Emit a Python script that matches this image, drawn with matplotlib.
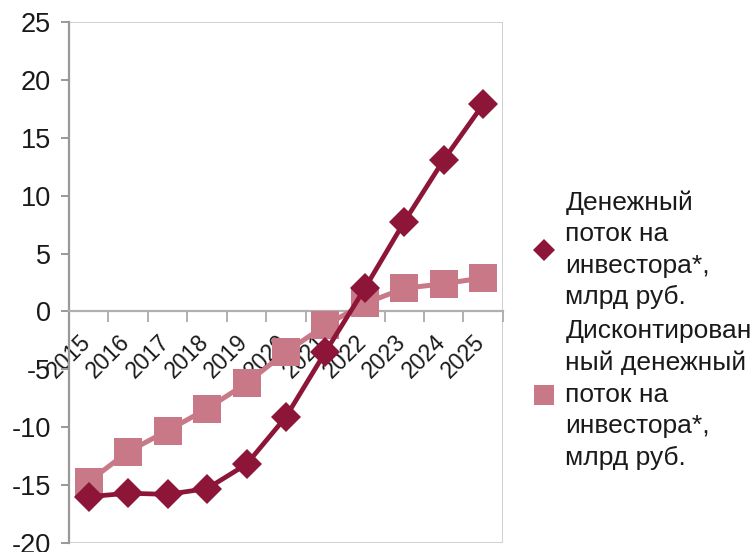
import matplotlib
matplotlib.use("Agg")
import matplotlib.pyplot as plt
from matplotlib.patches import Rectangle
from matplotlib.ticker import FixedLocator, NullFormatter
from matplotlib.transforms import ScaledTranslation

plt.rcParams['font.family'] = ['Liberation Sans', 'DejaVu Sans']

years = ['2015', '2016', '2017', '2018', '2019', '2020', '2021', '2022', '2023', '2024', '2025']
cash_flow = [-16.0, -15.7, -15.8, -15.3, -13.2, -9.1, -3.5, 2.0, 7.75, 13.1, 17.9]
discounted_flow = [-14.7, -12.1, -10.3, -8.4, -6.2, -3.5, -1.2, 0.7, 2.0, 2.4, 2.9]
y_ticks = [-20, -15, -10, -5, 0, 5, 10, 15, 20, 25]

label_cash = "Денежный\nпоток на\nинвестора*,\nмлрд руб."
label_disc = "Дисконтирован\nный денежный\nпоток на\nинвестора*,\nмлрд руб."

c_dark = '#8C1538'
c_pink = '#C97888'
txt = '#1a1a1a'

fig = plt.figure(figsize=(7.54, 5.52), dpi=100)
ax = fig.add_axes([0.0915, 0.0163, 0.5755, 0.9437])

x = list(range(len(years)))
ax.plot(x, discounted_flow, color=c_pink, lw=3.6, marker='s', ms=20,
        mec=c_pink, mew=0, label=label_disc, zorder=3, clip_on=False)
ax.plot(x, cash_flow, color=c_dark, lw=3.4, marker='D', ms=15,
        mec=c_dark, mew=0, label=label_cash, zorder=4, clip_on=False)

ax.set_xlim(-0.5, len(years) - 0.5)
ax.set_ylim(-20, 25)

# plot-area frame
ax.add_patch(Rectangle((0, 0), 1, 1, transform=ax.transAxes, fill=False,
                       edgecolor='#C8C8C8', lw=1.2, zorder=1))
for s in ['top', 'right']:
    ax.spines[s].set_visible(False)
ax.spines['left'].set_color('#999999')
ax.spines['left'].set_linewidth(1.6)
ax.spines['bottom'].set_position(('data', 0))
ax.spines['bottom'].set_color('#B0B0B0')
ax.spines['bottom'].set_linewidth(1.6)

ax.set_yticks(y_ticks)
ax.set_yticklabels([str(v) for v in y_ticks])
ax.tick_params(axis='y', direction='out', length=6, width=1.4, color='#999999',
               labelsize=19.5, pad=7, labelcolor=txt)

ax.set_xticks(x)
ax.set_xticklabels(years, rotation=45, ha='right', va='top',
                   rotation_mode='anchor')
ax.tick_params(axis='x', which='major', length=0, labelsize=16.5, pad=13.5,
               labelcolor=txt)
off = ScaledTranslation(-10 / 100, 0, fig.dpi_scale_trans)
for lbl in ax.get_xticklabels():
    lbl.set_transform(lbl.get_transform() + off)
ax.xaxis.set_minor_locator(FixedLocator([i - 0.5 for i in range(len(years) + 1)]))
ax.xaxis.set_minor_formatter(NullFormatter())
ax.tick_params(axis='x', which='minor', direction='out', length=8, width=1.4,
               color='#B0B0B0')

handles, labels = ax.get_legend_handles_labels()
leg = fig.legend(handles[::-1], labels[::-1], loc='center left',
                 bbox_to_anchor=(0.706, 0.402), frameon=False, fontsize=19,
                 handlelength=0.9, handletextpad=0.35, labelspacing=0.36,
                 markerscale=0.75, borderaxespad=0, borderpad=0)
for h in leg.legend_handles:
    h.set_linestyle('None')
for t in leg.get_texts():
    t.set_color(txt)
    t.set_linespacing(1.4)

fig.savefig('out.png', dpi=100)
